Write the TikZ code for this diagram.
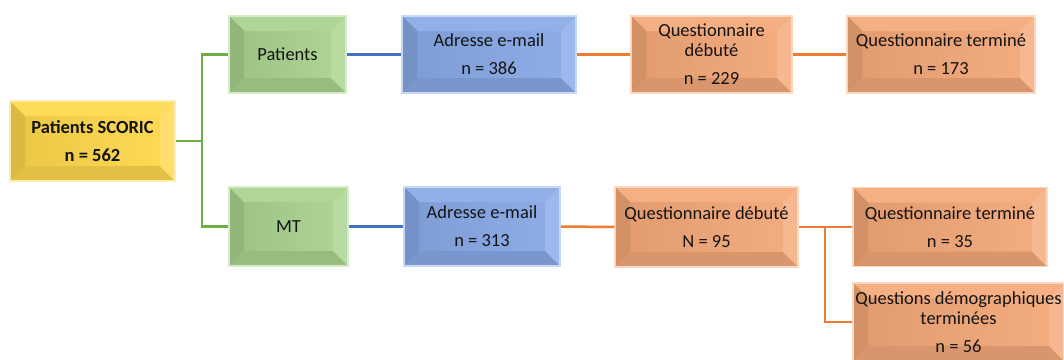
\documentclass[tikz,border=0pt]{standalone}
\usepackage{fontspec}
\setmainfont{Carlito}
\usetikzlibrary{calc}
\definecolor{cyel}{HTML}{FFD84C}
\definecolor{cgrn}{HTML}{A9D38E}
\definecolor{cblu}{HTML}{88A9E6}
\definecolor{corg}{HTML}{F4A878}
\definecolor{lgrn}{HTML}{70AD47}
\definecolor{lblu}{HTML}{4472C4}
\definecolor{lorg}{HTML}{ED7D31}
\newcommand\bxfont{\fontsize{18.5}{20}\selectfont}
\newcommand\bv{15pt}
\tikzset{
  bevel/.style={draw=#1!45!white, line width=1.5pt, fill=#1, inner sep=0pt,
    align=center, font=\bxfont, text=black!92,
    path picture={
      \path (path picture bounding box.north west) coordinate (pnw)
            (path picture bounding box.south east) coordinate (pse)
            (path picture bounding box.north east) coordinate (pne)
            (path picture bounding box.south west) coordinate (psw);
      \shade[left color=#1!92!black, right color=#1!94!white] (pnw) rectangle (pse);
      \fill[#1!92!white] (pnw) -- (pne) -- ([shift={(-\bv,-\bv)}]pne) -- ([shift={(\bv,-\bv)}]pnw) -- cycle;
      \fill[#1!86!black] (pnw) -- ([shift={(\bv,-\bv)}]pnw) -- ([shift={(\bv,\bv)}]psw) -- (psw) -- cycle;
      \fill[#1!89!black] (psw) -- ([shift={(\bv,\bv)}]psw) -- ([shift={(-\bv,\bv)}]pse) -- (pse) -- cycle;
      \fill[#1!82!white] (pse) -- ([shift={(-\bv,\bv)}]pse) -- ([shift={(-\bv,-\bv)}]pne) -- (pne) -- cycle;
    }},
  conn/.style={line width=2.5pt, #1},
}
\begin{document}
\begin{tikzpicture}[x=1pt,y=-1pt]
\useasboundingbox (0,0) rectangle (1064,359);
% nodes
\node[bevel=cyel, minimum width=165pt, minimum height=80pt] (scoric) at (92.5,141) {\bfseries Patients SCORIC\\[8pt]\bfseries n = 562};
\node[bevel=cgrn, minimum width=117pt, minimum height=77pt] (patients) at (287.5,54.5) {Patients};
\node[bevel=cgrn, minimum width=119pt, minimum height=79pt] (mt) at (288.5,226.5) {MT};
\node[bevel=cblu, minimum width=174pt, minimum height=77pt] (mail1) at (489,54.5) {Adresse e-mail\\[8pt]n = 386};
\node[bevel=cblu, minimum width=156pt, minimum height=79pt] (mail2) at (482,226.5) {Adresse e-mail\\[8pt]n = 313};
\node[bevel=corg, minimum width=161pt, minimum height=77pt] (deb1) at (711.5,54.5) {Questionnaire\\débuté\\[8pt]n = 229};
\node[bevel=corg, minimum width=188pt, minimum height=77pt] (ter1) at (941,54.5) {Questionnaire terminé\\[8pt]n = 173};
\node[bevel=corg, minimum width=183pt, minimum height=80pt] (deb2) at (706.5,227) {Questionnaire débuté\\[8pt]N = 95};
\node[bevel=corg, minimum width=194pt, minimum height=79pt] (ter2) at (950,227) {Questionnaire terminé\\[8pt]n = 35};
\node[bevel=corg, minimum width=211pt, minimum height=78pt] (demo) at (958.5,322) {Questions démographiques\\terminées\\[8pt]n = 56};
% junctions
\coordinate (jg) at (202,141);
\coordinate (jo) at (825,227);
% connectors
\draw[conn=lgrn] (scoric.east) -- (jg);
\draw[conn=lgrn] (jg) |- (patients.west);
\draw[conn=lgrn] (jg) |- (mt.west);
\draw[conn=lblu] (patients.east) -- (mail1.west);
\draw[conn=lblu] (mt.east) -- (mail2.west);
\draw[conn=lorg] (mail1.east) -- (deb1.west);
\draw[conn=lorg] (deb1.east) -- (ter1.west);
\draw[conn=lorg] (mail2.east) -- (deb2.west);
\draw[conn=lorg] (deb2.east) -- (ter2.west);
\draw[conn=lorg] (jo) |- (demo.west);
\end{tikzpicture}
\end{document}
